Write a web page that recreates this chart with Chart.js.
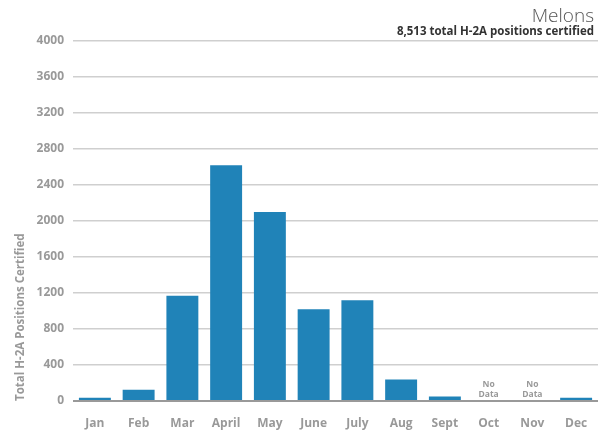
<!DOCTYPE html>
<html>
<head>
<meta charset="utf-8">
<script src="https://cdn.jsdelivr.net/npm/chart.js@4/dist/chart.umd.min.js"></script>
<style>
  body { margin: 0; background: #fff; }
  #wrap { width: 605px; height: 433px; }
</style>
</head>
<body>
<div id="wrap"><canvas id="c" width="605" height="433"></canvas></div>
<script>
const months = ["Jan", "Feb", "Mar", "April", "May", "June", "July", "Aug", "Sept", "Oct", "Nov", "Dec"];
const positions = [35, 125, 1170, 2620, 2100, 1020, 1120, 238, 50, null, null, 35];
const noDataMonths = ["Oct", "Nov"];
const yTicks = [0, 400, 800, 1200, 1600, 2000, 2400, 2800, 3200, 3600, 4000];

const chartTitle = "Melons";
const chartSubtitle = "8,513 total H-2A positions certified";

const ctx = document.querySelector("#c").getContext("2d");

// title, subtitle and the "No Data" notes
const extras = {
  id: "extras",
  afterDraw(chart) {
    const c = chart.ctx;
    const x = chart.scales.x;
    const y = chart.scales.y;
    c.save();
    c.textAlign = "right";
    c.fillStyle = "#555";
    c.font = "300 19px 'Open Sans'";
    c.fillText(chartTitle, 594, 22);
    c.fillStyle = "#333";
    c.font = "bold 11.5px 'Open Sans'";
    c.fillText(chartSubtitle, 594, 35);

    c.textAlign = "center";
    c.fillStyle = "#999";
    c.font = "bold 8.5px 'Open Sans'";
    noDataMonths.forEach(function (m) {
      const px = x.getPixelForValue(months.indexOf(m));
      const base = y.getPixelForValue(0);
      c.fillText("No", px, base - 14);
      c.fillText("Data", px, base - 4);
    });
    c.restore();
  }
};

const chart = new Chart(ctx, {
  type: "bar",
  data: {
    labels: months,
    datasets: [
      {
        data: positions,
        backgroundColor: "#2083b8",
        barPercentage: 0.73,
        categoryPercentage: 1
      }
    ]
  },
  options: {
    responsive: false,
    animation: false,
    layout: { padding: { top: 41, right: 7, left: 0, bottom: 0 } },
    plugins: {
      legend: { display: false },
      tooltip: { enabled: false }
    },
    scales: {
      x: {
        grid: { display: false },
        border: { display: false },
        ticks: {
          color: "#999",
          padding: 7,
          font: { family: "'Open Sans'", size: 12, weight: "bold" }
        },
        afterFit(scale) { scale.height = 32; }
      },
      y: {
        min: 0,
        max: 4000,
        afterBuildTicks(scale) {
          scale.ticks = yTicks.map(v => ({ value: v }));
        },
        grid: {
          drawTicks: false,
          color: c => (c.tick && c.tick.value === 0 ? "#999" : "#cfcfcf"),
          lineWidth: c => (c.tick && c.tick.value === 0 ? 2 : 1.5)
        },
        border: { display: false },
        ticks: {
          color: "#999",
          padding: 9,
          callback: v => String(v),
          font: { family: "'Open Sans'", size: 12, weight: "bold" }
        },
        title: {
          display: true,
          text: "Total H-2A Positions Certified",
          align: "start",
          color: "#999",
          padding: { top: 14, bottom: 0 },
          font: { family: "'Open Sans'", size: 11.5, weight: "bold" }
        },
        afterFit(scale) { scale.width = 73; }
      }
    }
  },
  plugins: [extras]
});
</script>
</body>
</html>
